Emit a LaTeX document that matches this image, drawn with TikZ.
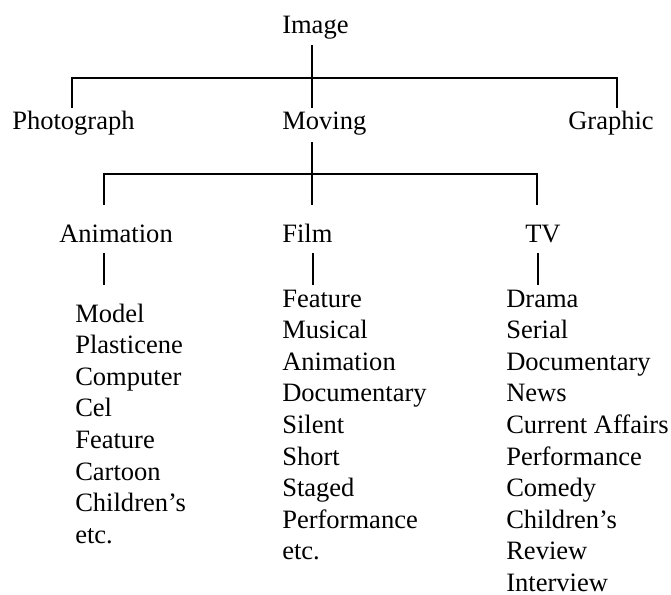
\documentclass[tikz,border=0pt]{standalone}
\usepackage{fontspec}
\setmainfont{Liberation Serif}
\begin{document}
\begin{tikzpicture}[x=0.75pt,y=-0.75pt,
        lbl/.style={anchor=base west,inner sep=0pt,font=\fontsize{19.9}{24}\selectfont},
        bus/.style={line width=0.9pt}]
        \useasboundingbox (0,0) rectangle (671,594);
        % first level
        \node[lbl] (img) at (282,33) {Image};
        \node[lbl] (pho) at (12,129) {Photograph};
        \node[lbl] (mov) at (282,129) {Moving};
        \node[lbl] (gra) at (568,129) {Graphic};
        \coordinate (i0) at (312,45);
        \coordinate (i1) at (312,108);
        \coordinate (hl) at (72,78);
        \coordinate (hr) at (617,78);
        \draw[bus] (i0)--(i1);
        \draw[bus] (hl |- i1)--(hl)--(hr)--(hr |- i1);
        % second level
        \node[lbl] (ani) at (59,242) {Animation};
        \node[lbl] (fil) at (282,242) {Film};
        \node[lbl] (tv) at (525,242) {TV};
        \coordinate (m0) at (312,142);
        \coordinate (m1) at (312,205);
        \coordinate (vl) at (104,174);
        \coordinate (vr) at (537,174);
        \draw[bus] (m0)--(m1);
        \draw[bus] (vl |- m1)--(vl)--(vr)--(vr |- m1);
        % lists
        \coordinate (a0) at (104,253);
        \coordinate (f0) at (313,253);
        \coordinate (t0) at (538,253);
        \draw[bus] (a0)--++(0,32);
        \draw[bus] (f0)--++(0,32);
        \draw[bus] (t0)--++(0,32);
        \foreach \t [count=\i from 0] in {Model,Plasticene,Computer,Cel,Feature,Cartoon,Children's,etc.}
            \node[lbl] (a\i) at (75,{322+31.6*\i}) {\t};
        \foreach \t [count=\i from 0] in {Feature,Musical,Animation,Documentary,Silent,Short,Staged,Performance,etc.}
            \node[lbl] (f\i) at (282,{307+31.6*\i}) {\t};
        \foreach \t [count=\i from 0] in {Drama,Serial,Documentary,News,Current Affairs,Performance,Comedy,Children's,Review,Interview}
            \node[lbl] (t\i) at (506,{307+31.6*\i}) {\t};
    \end{tikzpicture}
\end{document}
